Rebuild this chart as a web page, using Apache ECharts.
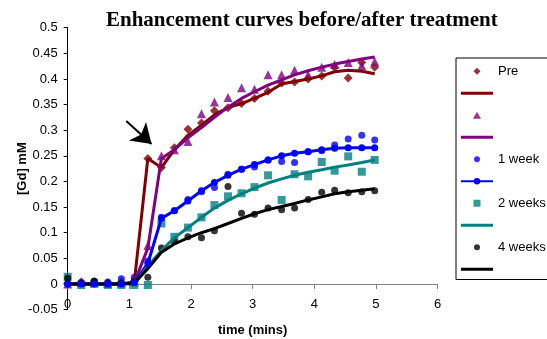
<!DOCTYPE html>
<html>
<head>
<meta charset="utf-8">
<script src="https://cdn.jsdelivr.net/npm/echarts@6/dist/echarts.min.js"></script>
<style>
  html, body { margin: 0; padding: 0; background: #fff; }
  #chart { width: 547px; height: 339px; }
</style>
</head>
<body>
<div id="chart"></div>
<script>
// sample times (mins)
const times = [0, 0.22, 0.43, 0.65, 0.87, 1.08, 1.3, 1.52, 1.73, 1.95, 2.17, 2.38,
  2.6, 2.82, 3.03, 3.25, 3.47, 3.68, 3.9, 4.12, 4.33, 4.55, 4.77, 4.98];

// measured [Gd] (mM)
const preData = [0.002, 0.004, 0.003, 0.002, 0.004, 0.006, 0.245, 0.227, 0.266, 0.302, 0.314, 0.338,
  0.344, 0.352, 0.362, 0.376, 0.392, 0.394, 0.400, 0.406, 0.423, 0.402, 0.432, 0.423];
const postData = [0.0, 0.003, 0.002, 0.001, 0.002, 0.004, 0.075, 0.25, 0.262, 0.278, 0.332, 0.355,
  0.364, 0.383, 0.38, 0.408, 0.408, 0.417, 0.408, 0.423, 0.428, 0.432, 0.426, 0.434];
const week1Data = [0.0, 0.003, 0.005, 0.004, 0.01, 0.013, 0.045, 0.13, 0.143, 0.165, 0.18, 0.188,
  0.214, 0.224, 0.228, 0.242, 0.239, 0.237, 0.258, 0.26, 0.271, 0.283, 0.29, 0.281];
const week2Data = [0.014, -0.002, 0.001, -0.002, -0.002, -0.002, -0.002, 0.118, 0.092, 0.11, 0.13, 0.154,
  0.171, 0.177, 0.189, 0.212, 0.164, 0.214, 0.21, 0.238, 0.221, 0.249, 0.219, 0.242];
const week4Data = [0.011, 0.001, 0.006, 0.001, 0.001, 0.006, 0.013, 0.07, 0.083, 0.092, 0.09, 0.104,
  0.19, 0.138, 0.136, 0.148, 0.145, 0.148, 0.165, 0.179, 0.183, 0.178, 0.18, 0.182];

// fitted curves
const preFit = [0, 0, 0, 0, 0, 0.003, 0.245, 0.227, 0.262, 0.29, 0.31, 0.33,
  0.344, 0.352, 0.362, 0.374, 0.39, 0.395, 0.4, 0.406, 0.414, 0.417, 0.415, 0.41];
const postFit = [0, 0, 0, 0, 0, 0.003, 0.07, 0.245, 0.262, 0.285, 0.305, 0.325,
  0.345, 0.362, 0.375, 0.388, 0.398, 0.408, 0.416, 0.423, 0.429, 0.434, 0.439, 0.443];
const week1Fit = [0, 0, 0, 0, 0, 0.003, 0.04, 0.128, 0.143, 0.162, 0.182, 0.198,
  0.212, 0.224, 0.233, 0.242, 0.25, 0.255, 0.258, 0.262, 0.265, 0.266, 0.266, 0.266];
const week2Fit = [0, 0, 0, 0, 0, 0, 0.035, 0.065, 0.09, 0.11, 0.13, 0.148,
  0.163, 0.176, 0.187, 0.197, 0.205, 0.212, 0.218, 0.223, 0.228, 0.232, 0.237, 0.242];
const week4Fit = [0, 0, 0, 0, 0, 0.002, 0.03, 0.062, 0.078, 0.09, 0.1, 0.108,
  0.118, 0.128, 0.137, 0.145, 0.151, 0.157, 0.164, 0.17, 0.176, 0.18, 0.183, 0.186];

// arrow annotation (data coords)
const arrowFrom = [0.95, 0.318];
const arrowTo = [1.36, 0.273];

const labelled = ['Pre', '1 week', '2 weeks', '4 weeks'];

// legend icons drawn inside a 32x8 box (leading moves fix the box size)
const box = 'path://M0,0M32,8';
const icons = {
  diamond: box + 'M16,0.5L19.5,4L16,7.5L12.5,4Z',
  triangle: box + 'M16,0.5L20,7.5L12,7.5Z',
  circle: box + 'M16,1A3,3,0,1,1,16,7A3,3,0,1,1,16,1Z',
  rect: box + 'M12.5,0.5H19.5V7.5H12.5Z',
  line: 'path://M0,0H32V3H0Z'
};

const pair = vals => times.map((t, i) => [t, vals[i]]);

function scatter(name, vals, color, symbol, size) {
  return {
    name, type: 'scatter', data: pair(vals),
    symbol, symbolSize: size,
    itemStyle: { color }
  };
}
function fit(name, vals, color, withDots) {
  return {
    name, type: 'line', data: pair(vals),
    symbol: withDots ? 'circle' : 'none',
    symbolSize: 7,
    showAllSymbol: true,
    lineStyle: { width: 3, color },
    itemStyle: { color }
  };
}

const series = [
  scatter('Pre', preData, '#800000', 'diamond', 9),
  fit('Pre fit', preFit, '#800000'),
  scatter('Post', postData, '#800080', 'triangle', 9),
  fit('Post fit', postFit, '#800080'),
  scatter('1 week', week1Data, '#0000ff', 'circle', 7),
  fit('1 week fit', week1Fit, '#0000ff', true),
  scatter('2 weeks', week2Data, '#008080', 'rect', 8),
  fit('2 weeks fit', week2Fit, '#008080'),
  scatter('4 weeks', week4Data, '#000000', 'circle', 7),
  fit('4 weeks fit', week4Fit, '#000000')
];

series[0].markLine = {
  silent: true,
  symbol: ['none', 'arrow'],
  symbolSize: 19,
  label: { show: false },
  lineStyle: { color: '#000', width: 2, type: 'solid' },
  data: [[{ coord: arrowFrom }, { coord: arrowTo }]]
};

function legendItem(s) {
  if (s.type === 'scatter') return { name: s.name, icon: icons[s.symbol] };
  if (s.symbol === 'none') return { name: s.name, icon: icons.line };
  return { name: s.name };
}

const chart = echarts.init(document.getElementById('chart'));
chart.setOption({
  animation: false,
  textStyle: { fontFamily: 'Liberation Sans, Arial, sans-serif' },
  title: {
    text: 'Enhancement curves before/after treatment',
    left: 101, top: 5,
    textStyle: { fontFamily: 'Liberation Serif, Times New Roman, serif', fontWeight: 'bold', fontSize: 21, color: '#000' }
  },
  grid: { left: 67.7, right: 109.4, top: 27.7, bottom: 29.4, containLabel: false, outerBoundsMode: 'none' },
  legend: {
    orient: 'vertical',
    left: 456, top: 58,
    padding: [6, 12, 3, 4],
    itemWidth: 32, itemHeight: 8, itemGap: 7.5,
    symbolKeepAspect: true,
    borderColor: '#000', borderWidth: 1,
    backgroundColor: '#fff',
    textStyle: { fontSize: 13, color: '#000', lineHeight: 14.5 },
    formatter: name => labelled.includes(name) ? name : ' ',
    data: series.map(legendItem)
  },
  xAxis: {
    type: 'value', min: 0, max: 6, interval: 1,
    name: 'time (mins)', nameLocation: 'middle', nameGap: 14, nameMoveOverlap: false,
    nameTextStyle: { fontWeight: 'bold', fontSize: 13, color: '#000' },
    axisLine: { onZero: true, lineStyle: { color: '#808080', width: 1 } },
    axisTick: { length: 5, lineStyle: { color: '#808080' } },
    axisLabel: { fontSize: 13, color: '#000', margin: -12 },
    splitLine: { show: false }
  },
  yAxis: {
    type: 'value', min: -0.05, max: 0.5, interval: 0.05,
    name: '[Gd] mM', nameLocation: 'middle', nameGap: 39, nameMoveOverlap: false,
    nameTextStyle: { fontWeight: 'bold', fontSize: 13, color: '#000' },
    axisLine: { show: true, lineStyle: { color: '#000', width: 1 } },
    axisTick: { show: true, length: 4, lineStyle: { color: '#000' } },
    axisLabel: { fontSize: 13, color: '#000', margin: 10 },
    splitLine: { show: false }
  },
  series
});
</script>
</body>
</html>
